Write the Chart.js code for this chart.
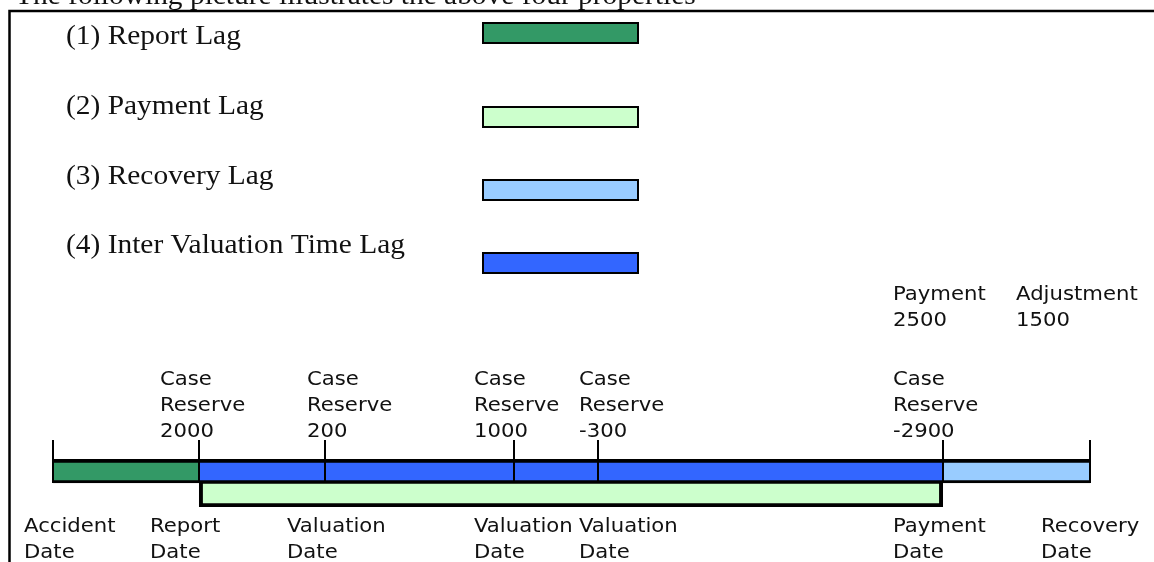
<!DOCTYPE html>
<html>
<head>
<meta charset="utf-8">
<script src="https://cdn.jsdelivr.net/npm/chart.js@4"></script>
<style>
  html, body { margin: 0; padding: 0; background: #fff; }
  #wrap { width: 1154px; height: 562px; position: relative; }
</style>
</head>
<body>
<div id="wrap"><canvas id="lagChart"></canvas></div>
<script>
// lag types, in legend order
const lagNames = ['Report Lag', 'Payment Lag', 'Recovery Lag', 'Inter Valuation Time Lag'];
const lagColors = ['#339966', '#CCFFCC', '#99CCFF', '#3366FF'];

// the two lanes of the timeline
const lanes = ['Case Reserve', 'Payment'];

// events on the claim timeline (months since accident)
const eventNames = ['Accident Date', 'Report Date', 'Valuation Date', 'Valuation Date', 'Valuation Date', 'Payment Date', 'Recovery Date'];
const eventTimes = [0, 14.1, 26.2, 44.5, 52.6, 85.8, 100];
const caseReserves = [null, 2000, 200, 1000, -300, -2900, null];
const paymentAmount = 2500;
const adjustmentAmount = 1500;

// text placement (pixel offsets from the event tick)
const topLabelDx = [null, -39, -18, -40, -19, -50, null];
const bottomLabelDx = [-29, -49, -38, -40, -19, -50, -49];

const SERIF = '"Liberation Serif", "Times New Roman", serif';
const SANS = '"DejaVu Sans", Verdana, sans-serif';

function stretchedText(ctx, text, x, y, font, sx) {
    ctx.save();
    ctx.font = font;
    ctx.fillStyle = '#111';
    ctx.textBaseline = 'alphabetic';
    ctx.textAlign = 'left';
    ctx.translate(x, y);
    ctx.scale(sx, 1);
    ctx.fillText(text, 0, 0);
    ctx.restore();
}

const iPay = eventNames.indexOf('Payment Date');
const iRep = eventNames.indexOf('Report Date');

const valuationSegments = [];
for (let i = iRep; i < iPay; i++) {
    valuationSegments.push({ x: [eventTimes[i], eventTimes[i + 1]], y: lanes[0] });
}

const topLane = { borderColor: '#000', borderWidth: { top: 4, bottom: 3, left: 0, right: 0 }, borderSkipped: false };
const bottomLane = { borderColor: '#000', borderWidth: { top: 1, bottom: 4, left: 4, right: 4 }, borderSkipped: false };

const diagramPlugin = {
    id: 'diagram',
    beforeDraw(chart) {
        const ctx = chart.ctx;
        ctx.save();
        ctx.fillStyle = '#fff';
        ctx.fillRect(0, 0, chart.width, chart.height);

        // caption line cut by the top of the picture
        stretchedText(ctx, 'The following picture illustrates the above four properties', 15, 4, '27px ' + SERIF, 1.09);

        // frame
        ctx.strokeStyle = '#000';
        ctx.lineWidth = 2.5;
        ctx.beginPath();
        ctx.moveTo(chart.width, 11);
        ctx.lineTo(9.5, 11);
        ctx.lineTo(9.5, chart.height);
        ctx.stroke();

        // legend
        const baselines = [44, 114, 184, 253];
        const boxTops = [22, 106, 179, 252];
        chart.data.datasets.forEach((ds, i) => {
            stretchedText(ctx, '(' + (i + 1) + ') ' + ds.label, 66, baselines[i], '27px ' + SERIF, 1.09);
            ctx.fillStyle = ds.backgroundColor;
            ctx.fillRect(482, boxTops[i], 157, 22);
            ctx.strokeStyle = '#000';
            ctx.lineWidth = 2;
            ctx.strokeRect(483, boxTops[i] + 1, 155, 20);
        });
        ctx.restore();
    },
    afterDatasetsDraw(chart) {
        const ctx = chart.ctx;
        const x = chart.scales.x;
        const area = chart.chartArea;
        const laneBottom = area.top + area.height / 2;
        ctx.save();
        ctx.strokeStyle = '#000';
        ctx.lineWidth = 2;
        eventTimes.forEach((t, i) => {
            const px = Math.round(x.getPixelForValue(t));
            ctx.beginPath();
            ctx.moveTo(px, area.top - 19);
            ctx.lineTo(px, laneBottom);
            ctx.stroke();

            const font = '20px ' + SANS;
            if (caseReserves[i] !== null) {
                const lx = px + topLabelDx[i];
                ['Case', 'Reserve', String(caseReserves[i])].forEach((s, k) => {
                    stretchedText(ctx, s, lx, area.top - 74 + k * 26, font, 1.06);
                });
            }
            const words = eventNames[i].split(' ');
            words.forEach((s, k) => {
                stretchedText(ctx, s, px + bottomLabelDx[i], area.bottom + 25 + k * 26, font, 1.06);
            });
            if (i === iPay) {
                stretchedText(ctx, 'Payment', px - 50, area.top - 159, font, 1.06);
                stretchedText(ctx, String(paymentAmount), px - 50, area.top - 133, font, 1.06);
                stretchedText(ctx, 'Adjustment', px + 73, area.top - 159, font, 1.06);
                stretchedText(ctx, String(adjustmentAmount), px + 73, area.top - 133, font, 1.06);
            }
        });
        ctx.restore();
    }
};

new Chart(document.getElementById('lagChart'), {
    type: 'bar',
    data: {
        labels: lanes,
        datasets: [
            {
                label: lagNames[0],
                backgroundColor: lagColors[0],
                data: [{ x: [eventTimes[0], eventTimes[iRep]], y: lanes[0] }],
                ...topLane
            },
            {
                label: lagNames[1],
                backgroundColor: lagColors[1],
                data: [{ x: [eventTimes[iRep], eventTimes[iPay]], y: lanes[1] }],
                ...bottomLane
            },
            {
                label: lagNames[2],
                backgroundColor: lagColors[2],
                data: [{ x: [eventTimes[iPay], eventTimes[eventTimes.length - 1]], y: lanes[0] }],
                ...topLane
            },
            {
                label: lagNames[3],
                backgroundColor: lagColors[3],
                data: valuationSegments,
                ...topLane
            }
        ]
    },
    options: {
        indexAxis: 'y',
        responsive: true,
        maintainAspectRatio: false,
        animation: false,
        grouped: false,
        barPercentage: 1,
        categoryPercentage: 1,
        layout: {
            padding: { left: 53, right: 64, top: 459, bottom: 55 }
        },
        plugins: {
            legend: { display: false },
            tooltip: { enabled: false }
        },
        scales: {
            x: { type: 'linear', min: 0, max: 100, display: false },
            y: { display: false }
        }
    },
    plugins: [diagramPlugin]
});
</script>
</body>
</html>
